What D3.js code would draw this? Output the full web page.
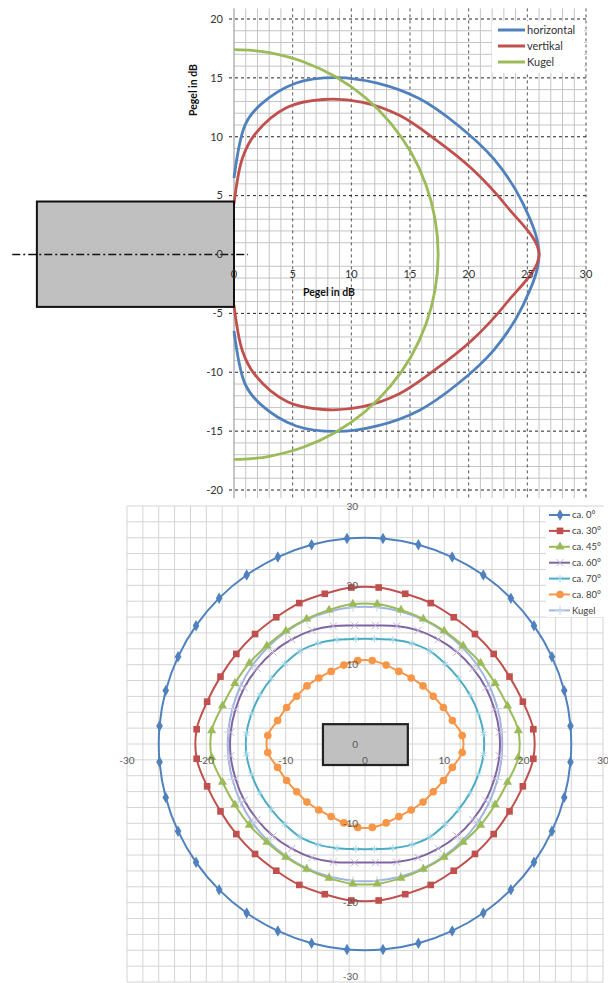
<!DOCTYPE html>
<html>
<head>
<meta charset="utf-8">
<script src="https://cdn.jsdelivr.net/npm/d3@7"></script>
<style>
  body { margin: 0; background: #fff; }
  svg { display: block; }
  text { font-family: Lato, "Open Sans", sans-serif; }
</style>
</head>
<body>
<script>
// top chart: level in dB over angle (deg), upper and lower half
const topAngles = [-90, -85, -80, -70, -60, -50, -40, -30, -20, -10, 0, 10, 20, 30, 40, 50, 60, 70, 80, 85, 90];
const horizontal = [6.5, 11.1, 12.9, 15.5, 17.35, 19.0, 20.6, 22.0, 23.6, 25.0, 26.0, 25.0, 23.6, 22.0, 20.6, 19.0, 17.35, 15.5, 12.9, 11.1, 6.5];
const vertikal = [4.3, 8.2, 10.4, 13.3, 15.2, 16.9, 18.4, 19.7, 21.5, 23.6, 26.0, 23.6, 21.5, 19.7, 18.4, 16.9, 15.2, 13.3, 10.4, 8.2, 4.3];
const kugelTop = [17.4, 17.4, 17.4, 17.4, 17.4, 17.4, 17.4, 17.4, 17.4, 17.4, 17.4, 17.4, 17.4, 17.4, 17.4, 17.4, 17.4, 17.4, 17.4, 17.4, 17.4];
const topTicksX = [0, 5, 10, 15, 20, 25, 30];
const topTicksY = [20, 15, 10, 5, 0, -5, -10, -15, -20];

// bottom chart: level in dB round the axis, every 10 deg starting at 5 deg
const ringAngles = [5, 15, 25, 35, 45, 55, 65, 75, 85, 95, 105, 115, 125, 135, 145, 155, 165, 175,
  185, 195, 205, 215, 225, 235, 245, 255, 265, 275, 285, 295, 305, 315, 325, 335, 345, 355];
const ca0 = [26.0, 26.0, 26.0, 26.0, 26.0, 26.0, 26.0, 26.0, 26.0, 26.0, 26.0, 26.0, 26.0, 26.0, 26.0, 26.0, 26.0, 26.0,
  26.0, 26.0, 26.0, 26.0, 26.0, 26.0, 26.0, 26.0, 26.0, 26.0, 26.0, 26.0, 26.0, 26.0, 26.0, 26.0, 26.0, 26.0];
const ca30 = [21.3, 20.6, 20.1, 19.8, 19.6, 19.5, 19.6, 19.6, 19.8, 19.8, 19.6, 19.6, 19.5, 19.6, 19.8, 20.1, 20.6, 21.3,
  21.3, 20.6, 20.1, 19.8, 19.6, 19.5, 19.6, 19.6, 19.8, 19.8, 19.6, 19.6, 19.5, 19.6, 19.8, 20.1, 20.6, 21.3];
const ca45 = [19.4, 18.6, 18.1, 17.8, 17.5, 17.4, 17.4, 17.5, 17.7, 17.7, 17.5, 17.4, 17.4, 17.5, 17.8, 18.1, 18.6, 19.4,
  19.4, 18.6, 18.1, 17.8, 17.5, 17.4, 17.4, 17.5, 17.7, 17.7, 17.5, 17.4, 17.4, 17.5, 17.8, 18.1, 18.6, 19.4];
const ca60 = [17.0, 16.9, 16.8, 16.6, 16.4, 16.1, 15.8, 15.4, 15.0, 15.0, 15.4, 15.8, 16.1, 16.4, 16.6, 16.8, 16.9, 17.0,
  17.0, 16.9, 16.8, 16.6, 16.4, 16.1, 15.8, 15.4, 15.0, 15.0, 15.4, 15.8, 16.1, 16.4, 16.6, 16.8, 16.9, 17.0];
const ca70 = [15.0, 14.8, 14.6, 14.4, 14.3, 14.3, 14.0, 13.6, 13.3, 13.3, 13.6, 14.0, 14.3, 14.3, 14.4, 14.6, 14.8, 15.0,
  15.0, 14.8, 14.6, 14.4, 14.3, 14.3, 14.0, 13.6, 13.3, 13.3, 13.6, 14.0, 14.3, 14.3, 14.4, 14.6, 14.8, 15.0];
const ca80 = [12.3, 11.4, 10.9, 10.5, 10.35, 10.15, 10.1, 10.3, 10.55, 10.55, 10.3, 10.1, 10.15, 10.35, 10.5, 10.9, 11.4, 12.3,
  12.3, 11.4, 10.9, 10.5, 10.35, 10.15, 10.1, 10.3, 10.55, 10.55, 10.3, 10.1, 10.15, 10.35, 10.5, 10.9, 11.4, 12.3];
const kugelRing = [17.3, 17.3, 17.3, 17.3, 17.3, 17.3, 17.3, 17.3, 17.3, 17.3, 17.3, 17.3, 17.3, 17.3, 17.3, 17.3, 17.3, 17.3,
  17.3, 17.3, 17.3, 17.3, 17.3, 17.3, 17.3, 17.3, 17.3, 17.3, 17.3, 17.3, 17.3, 17.3, 17.3, 17.3, 17.3, 17.3];
const ringTicks = [-30, -20, -10, 0, 10, 20, 30];

const width = 608;
const height = 983;
const rad = d => d * Math.PI / 180;

const svg = d3.select('body').append('svg')
  .attr('width', width)
  .attr('height', height);

// ---------- top chart ----------
const xT = d3.scaleLinear().domain([0, 30]).range([234, 586]);
const yT = d3.scaleLinear().domain([-20, 20]).range([490, 19]);
const topG = svg.append('g');

// minor grid
topG.append('g').selectAll('line')
  .data(d3.range(1, 30).filter(v => v % 5 !== 0))
  .join('line')
  .attr('x1', d => xT(d)).attr('x2', d => xT(d))
  .attr('y1', yT(20.9)).attr('y2', yT(-20.7))
  .attr('stroke', '#c4c4c4');
topG.append('g').selectAll('line')
  .data(d3.range(-19, 20).filter(v => v % 5 !== 0))
  .join('line')
  .attr('x1', xT(0)).attr('x2', xT(30.1))
  .attr('y1', d => yT(d)).attr('y2', d => yT(d))
  .attr('stroke', '#c4c4c4');

// major dashed grid
topG.append('g').selectAll('line')
  .data([5, 10, 15, 20, 25, 30])
  .join('line')
  .attr('x1', d => xT(d)).attr('x2', d => xT(d))
  .attr('y1', yT(20.9)).attr('y2', yT(-20.7))
  .attr('stroke', '#555').attr('stroke-dasharray', '3,3');
topG.append('g').selectAll('line')
  .data(topTicksY.filter(v => v !== 0))
  .join('line')
  .attr('x1', xT(0) - 5).attr('x2', xT(30.1))
  .attr('y1', d => yT(d)).attr('y2', d => yT(d))
  .attr('stroke', '#222').attr('stroke-dasharray', '3,3');

// y axis line
topG.append('line')
  .attr('x1', xT(0)).attr('x2', xT(0))
  .attr('y1', yT(20.9)).attr('y2', yT(-20.7))
  .attr('stroke', '#8c8c8c');

// curves
const topLine = d3.line()
  .x(d => xT(d.r * Math.cos(rad(d.a))))
  .y(d => yT(d.r * Math.sin(rad(d.a))))
  .curve(d3.curveCatmullRom.alpha(0.5));
const topSeries = [
  {name: 'horizontal', color: '#4f81bd', vals: horizontal},
  {name: 'vertikal', color: '#c0504d', vals: vertikal},
  {name: 'Kugel', color: '#9bbb59', vals: kugelTop}
];
topSeries.forEach(s => {
  topG.append('path')
    .datum(topAngles.map((a, i) => ({a: a, r: s.vals[i]})))
    .attr('d', topLine)
    .attr('fill', 'none')
    .attr('stroke', s.color)
    .attr('stroke-width', 2.8);
});

// speaker box and centre line
topG.append('rect')
  .attr('x', xT(-16.8)).attr('y', yT(4.5))
  .attr('width', xT(0) - xT(-16.8)).attr('height', yT(-4.45) - yT(4.5))
  .attr('fill', '#c0c0c0').attr('stroke', '#111').attr('stroke-width', 2);
topG.append('line')
  .attr('x1', xT(-18.9)).attr('x2', xT(1.2))
  .attr('y1', yT(0)).attr('y2', yT(0))
  .attr('stroke', '#111').attr('stroke-width', 1.5)
  .attr('stroke-dasharray', '8,3,2,3');

// tick labels
topG.append('g').selectAll('text')
  .data(topTicksY)
  .join('text')
  .attr('x', xT(0) - 11).attr('y', d => yT(d))
  .attr('dy', '0.35em').attr('text-anchor', 'end')
  .attr('font-size', 11).attr('fill', '#333')
  .text(d => d);
topG.append('g').selectAll('text')
  .data(topTicksX)
  .join('text')
  .attr('x', d => xT(d)).attr('y', yT(0) + 23)
  .attr('text-anchor', 'middle')
  .attr('font-size', 11).attr('fill', '#333')
  .text(d => d);

// axis titles
topG.append('text')
  .attr('x', 329).attr('y', 296)
  .attr('text-anchor', 'middle')
  .attr('font-size', 10.5).attr('font-weight', 'bold').attr('fill', '#111')
  .text('Pegel in dB');
topG.append('text')
  .attr('transform', 'translate(197,90) rotate(-90)')
  .attr('text-anchor', 'middle')
  .attr('font-size', 10.5).attr('font-weight', 'bold').attr('fill', '#111')
  .text('Pegel in dB');

// legend
const topLeg = topG.append('g');
topLeg.append('rect')
  .attr('x', 492).attr('y', 21).attr('width', 92).attr('height', 52)
  .attr('fill', '#fff');
topSeries.forEach((s, i) => {
  const y = 30 + i * 16;
  topLeg.append('line')
    .attr('x1', 498).attr('x2', 525).attr('y1', y).attr('y2', y)
    .attr('stroke', s.color).attr('stroke-width', 3);
  topLeg.append('text')
    .attr('x', 527).attr('y', y).attr('dy', '0.35em')
    .attr('font-size', 11).attr('fill', '#333')
    .text(s.name);
});

// ---------- bottom chart ----------
const xB = d3.scaleLinear().domain([-30, 30]).range([127, 603]);
const yB = d3.scaleLinear().domain([-30, 30]).range([982, 506]);
const botG = svg.append('g');

botG.append('g').selectAll('line')
  .data(d3.range(-30, 31, 2))
  .join('line')
  .attr('x1', d => xB(d)).attr('x2', d => xB(d))
  .attr('y1', yB(30)).attr('y2', yB(-30))
  .attr('stroke', '#d4d4d4');
botG.append('g').selectAll('line')
  .data(d3.range(-30, 31, 2))
  .join('line')
  .attr('x1', xB(-30)).attr('x2', xB(30))
  .attr('y1', d => yB(d)).attr('y2', d => yB(d))
  .attr('stroke', '#d4d4d4');

const ringLine = d3.line()
  .x(d => xB(d.r * Math.cos(rad(d.a))))
  .y(d => yB(d.r * Math.sin(rad(d.a))))
  .curve(d3.curveCatmullRomClosed.alpha(0.5));

const ringSeries = [
  {name: 'ca. 0°', color: '#4f81bd', vals: ca0, sym: d3.symbolDiamond, size: 38, fill: true},
  {name: 'ca. 30°', color: '#c0504d', vals: ca30, sym: d3.symbolSquare, size: 44, fill: true},
  {name: 'ca. 45°', color: '#9bbb59', vals: ca45, sym: d3.symbolTriangle, size: 36, fill: true},
  {name: 'ca. 60°', color: '#8064a2', vals: ca60, sym: d3.symbolX, size: 36, fill: false, mark: '#c0b1d6'},
  {name: 'ca. 70°', color: '#4bacc6', vals: ca70, sym: d3.symbolAsterisk, size: 36, fill: false, mark: '#a5d6e4'},
  {name: 'ca. 80°', color: '#f79646', vals: ca80, sym: d3.symbolCircle, size: 46, fill: true},
  {name: 'Kugel', color: '#a0b6dd', vals: kugelRing, sym: d3.symbolPlus, size: 30, fill: false, mark: '#c5d3ec'}
];

ringSeries.slice().reverse().forEach(s => {
  const pts = ringAngles.map((a, i) => ({a: a, r: s.vals[i]}));
  botG.append('path')
    .datum(pts)
    .attr('d', ringLine)
    .attr('fill', 'none')
    .attr('stroke', s.color)
    .attr('stroke-width', 2);
  botG.append('g').selectAll('path')
    .data(pts)
    .join('path')
    .attr('transform', d => `translate(${xB(d.r * Math.cos(rad(d.a)))},${yB(d.r * Math.sin(rad(d.a)))})`)
    .attr('d', d3.symbol(s.sym, s.size))
    .attr('fill', s.fill ? s.color : 'none')
    .attr('stroke', s.fill ? 'none' : s.mark)
    .attr('stroke-width', 1);
});

// speaker box
botG.append('rect')
  .attr('x', xB(-5.3)).attr('y', yB(2.5))
  .attr('width', xB(5.4) - xB(-5.3)).attr('height', yB(-2.65) - yB(2.5))
  .attr('fill', '#c0c0c0').attr('stroke', '#222').attr('stroke-width', 2.2);

// tick labels (lowest one nudged up so it stays inside the page)
botG.append('g').selectAll('text')
  .data(ringTicks)
  .join('text')
  .attr('x', xB(0) - 7).attr('y', d => Math.min(yB(d), height - 7))
  .attr('dy', '0.35em').attr('text-anchor', 'end')
  .attr('font-size', 10).attr('fill', '#595959')
  .text(d => d);
botG.append('g').selectAll('text')
  .data(ringTicks)
  .join('text')
  .attr('x', d => xB(d)).attr('y', yB(0) + 20)
  .attr('text-anchor', 'middle')
  .attr('font-size', 10).attr('fill', '#595959')
  .text(d => d);

// legend
const botLeg = botG.append('g');
botLeg.append('rect')
  .attr('x', 546).attr('y', 507).attr('width', 58).attr('height', 110)
  .attr('fill', '#fff');
ringSeries.forEach((s, i) => {
  const y = 515 + i * 15.9;
  botLeg.append('line')
    .attr('x1', 549).attr('x2', 570).attr('y1', y).attr('y2', y)
    .attr('stroke', s.color).attr('stroke-width', 2);
  botLeg.append('path')
    .attr('transform', `translate(560,${y})`)
    .attr('d', d3.symbol(s.sym, s.size))
    .attr('fill', s.fill ? s.color : 'none')
    .attr('stroke', s.fill ? 'none' : s.mark);
  botLeg.append('text')
    .attr('x', 572).attr('y', y).attr('dy', '0.35em')
    .attr('font-size', 9.5).attr('fill', '#404040')
    .text(s.name);
});
</script>
</body>
</html>
